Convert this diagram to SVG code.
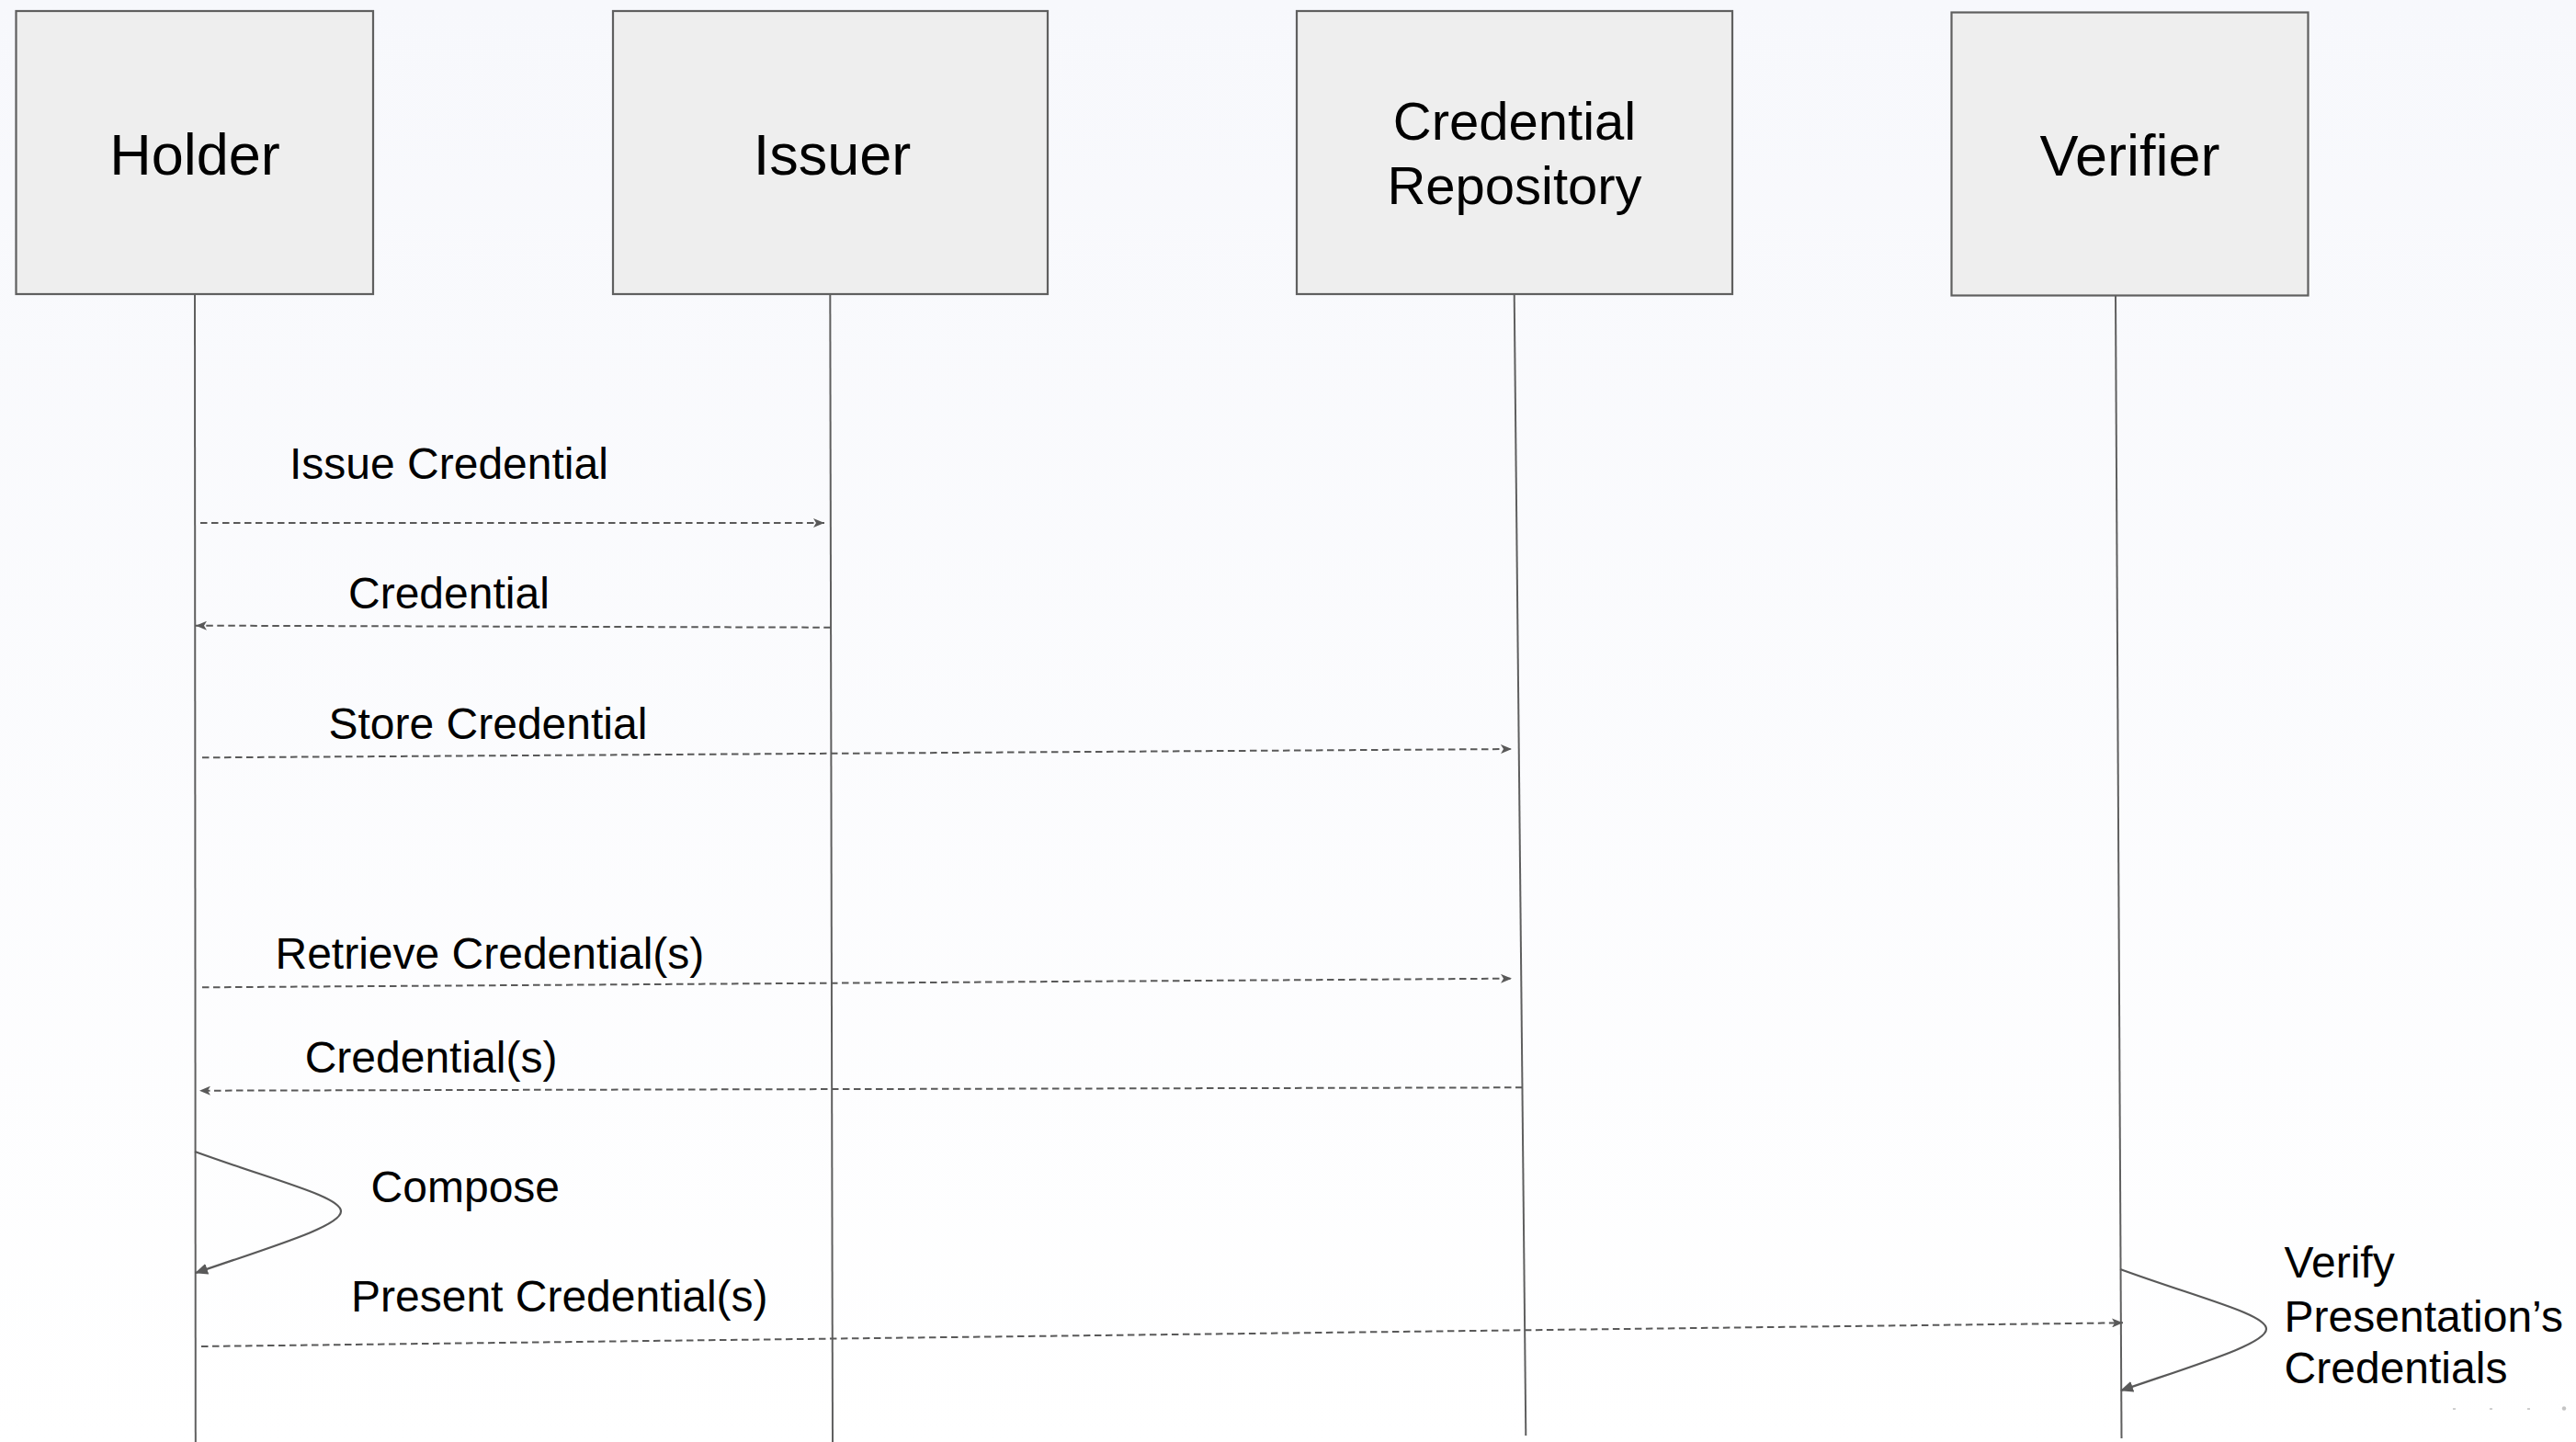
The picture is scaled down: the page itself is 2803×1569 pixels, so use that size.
<svg xmlns="http://www.w3.org/2000/svg" width="2803" height="1569" viewBox="0 0 2803 1569">
  <defs>
    <linearGradient id="bg" x1="0" y1="0" x2="0" y2="1">
      <stop offset="0" stop-color="#f7f8fc"/>
      <stop offset="1" stop-color="#ffffff"/>
    </linearGradient>
    <marker id="msg-head" viewBox="0 0 12 10" markerWidth="12" markerHeight="10" refX="12" refY="5" orient="auto" markerUnits="userSpaceOnUse">
      <path d="M0,0 L12,5 L0,10 L3,5 Z" fill="#595959"/>
    </marker>
    <marker id="self-head" viewBox="0 0 14 12" markerWidth="14" markerHeight="12" refX="13" refY="6" orient="auto" markerUnits="userSpaceOnUse">
      <path d="M0,0 L14,6 L0,12 Z" fill="#595959"/>
    </marker>
    <style>
      .box { fill: #eeeeee; stroke: #5f5f5f; stroke-width: 2.2; }
      .title { font-family: "Liberation Sans", Arial, sans-serif; font-size: 63px; fill: #000; text-anchor: middle; }
      .title-sm { font-family: "Liberation Sans", Arial, sans-serif; font-size: 58px; fill: #000; text-anchor: middle; }
      .life { stroke: #5f5f5f; stroke-width: 2; fill: none; }
      .msg { stroke: #595959; stroke-width: 2; stroke-dasharray: 7.5 4.5; fill: none; marker-end: url(#msg-head); }
      .self { stroke: #595959; stroke-width: 2.2; fill: none; marker-end: url(#self-head); }
      .label { font-family: "Liberation Sans", Arial, sans-serif; font-size: 48px; fill: #000; }
      .nav { stroke: #cfcfcf; stroke-width: 2; }
    </style>
  </defs>

  <rect width="2803" height="1569" fill="url(#bg)"/>

  <!-- lifelines -->
  <g id="lifelines">
    <line class="life" x1="212" y1="320" x2="212.8" y2="1569"/>
    <line class="life" x1="903.3" y1="320" x2="906" y2="1569"/>
    <line class="life" x1="1647.7" y1="320" x2="1660.3" y2="1562"/>
    <line class="life" x1="2302" y1="322" x2="2308.5" y2="1565"/>
  </g>

  <!-- participants -->
  <g id="holder">
    <rect class="box" x="17.5" y="12" width="388.5" height="308"/>
    <text class="title" x="212" y="189.5">Holder</text>
  </g>
  <g id="issuer">
    <rect class="box" x="667" y="12" width="473" height="308"/>
    <text class="title" x="905.5" y="190">Issuer</text>
  </g>
  <g id="credential-repository">
    <rect class="box" x="1411" y="12" width="474" height="308"/>
    <text class="title-sm" x="1648" y="151.7">Credential</text>
    <text class="title-sm" x="1648" y="221.7">Repository</text>
  </g>
  <g id="verifier">
    <rect class="box" x="2123.5" y="13.5" width="388" height="308"/>
    <text class="title" x="2317.5" y="191">Verifier</text>
  </g>

  <!-- messages -->
  <g id="connectors">
    <line class="msg" x1="218" y1="569" x2="897" y2="569"/>
    <line class="msg" x1="903.8" y1="682.7" x2="213" y2="680.7"/>
    <line class="msg" x1="220" y1="824.3" x2="1645" y2="815"/>
    <line class="msg" x1="220" y1="1074.3" x2="1645" y2="1064.7"/>
    <line class="msg" x1="1656.5" y1="1183.3" x2="217" y2="1186.7"/>
    <line class="msg" x1="219" y1="1465" x2="2310" y2="1439.3"/>
    <path class="self" d="M212,1253 C300,1285 371,1302 371,1318 C371,1334 300,1355 213,1385"/>
    <path class="self" d="M2307,1381 C2395,1413 2466,1430 2466,1446 C2466,1462 2395,1483 2308,1513"/>
  </g>

  <!-- message labels -->
  <g id="labels">
    <text class="label" x="315" y="521">Issue Credential</text>
    <text class="label" x="379" y="661.7">Credential</text>
    <text class="label" x="357.5" y="804.3">Store Credential</text>
    <text class="label" x="299.5" y="1054.3">Retrieve Credential(s)</text>
    <text class="label" x="331.7" y="1166.7">Credential(s)</text>
    <text class="label" x="403.6" y="1308.3">Compose</text>
    <text class="label" x="382" y="1426.7">Present Credential(s)</text>
    <text class="label" x="2485.6" y="1390">Verify</text>
    <text class="label" x="2485.6" y="1449">Presentation’s</text>
    <text class="label" x="2485.6" y="1505">Credentials</text>
  </g>

  <!-- small navigation marks, bottom right -->
  <g id="nav-marks">
    <line class="nav" x1="2669" y1="1533" x2="2672" y2="1533"/>
    <line class="nav" x1="2709" y1="1533" x2="2712" y2="1533"/>
    <line class="nav" x1="2750" y1="1533" x2="2753" y2="1533"/>
    <circle cx="2790" cy="1532.5" r="2.2" fill="#c4c4c4"/>
  </g>
</svg>
